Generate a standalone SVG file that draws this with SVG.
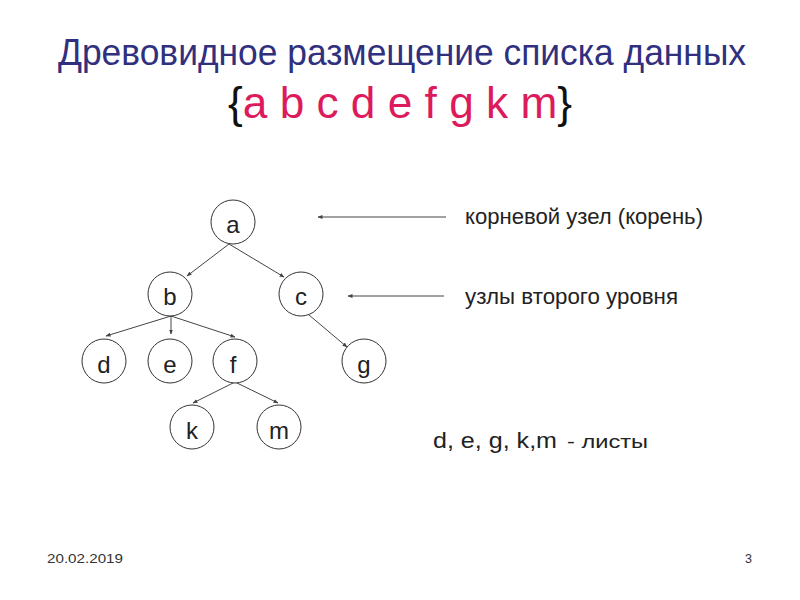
<svg xmlns="http://www.w3.org/2000/svg" width="800" height="600" viewBox="0 0 800 600">
<defs>
<marker id="ah" viewBox="0 0 10 10" refX="9" refY="5" markerWidth="5" markerHeight="5" orient="auto" markerUnits="userSpaceOnUse">
<path d="M0,1 L10,5 L0,9 z" fill="#444"/>
</marker>
<style>
.node circle{fill:#fff;stroke:#333;stroke-width:1}
.node text{font-family:"Liberation Sans",Arial,sans-serif;font-size:24px;fill:#222;text-anchor:middle}
.edge{stroke:#444;stroke-width:1;fill:none;marker-end:url(#ah)}
.lbl{font-family:"Liberation Sans",Arial,sans-serif;fill:#222}
</style>
</defs>
<rect width="800" height="600" fill="#fff"/>
<text x="58" y="65" font-family="'Liberation Sans',Arial,sans-serif" font-size="36" fill="#30307e" textLength="688" lengthAdjust="spacingAndGlyphs">Древовидное размещение списка данных</text>
<text x="228" y="118" font-family="'Liberation Sans',Arial,sans-serif" font-size="44" fill="#111" textLength="344" lengthAdjust="spacingAndGlyphs">{<tspan fill="#dc1a5c">a b c d e f g k m</tspan>}</text>

<g id="connectors">
<line class="edge" x1="229" y1="244" x2="187" y2="276"/>
<line class="edge" x1="229" y1="244" x2="284" y2="277"/>
<line class="edge" x1="171" y1="316" x2="106" y2="336"/>
<line class="edge" x1="171" y1="316" x2="171" y2="334"/>
<line class="edge" x1="171" y1="316" x2="235" y2="337"/>
<line class="edge" x1="309" y1="315" x2="347" y2="347"/>
<line class="edge" x1="235" y1="382" x2="193" y2="403"/>
<line class="edge" x1="235" y1="382" x2="278" y2="403"/>
<line class="edge" x1="446" y1="217" x2="318" y2="217"/>
<line class="edge" x1="444" y1="296" x2="348" y2="296"/>
</g>

<g id="node-a" class="node"><circle cx="233" cy="222" r="22"/><text x="233" y="233">a</text></g>
<g id="node-b" class="node"><circle cx="170" cy="294" r="22"/><text x="170" y="305">b</text></g>
<g id="node-c" class="node"><circle cx="301" cy="294" r="22"/><text x="301" y="305">c</text></g>
<g id="node-d" class="node"><circle cx="104" cy="361" r="22"/><text x="104" y="373">d</text></g>
<g id="node-e" class="node"><circle cx="170" cy="361" r="22"/><text x="170" y="373">e</text></g>
<g id="node-f" class="node"><circle cx="235" cy="361" r="22"/><text x="233" y="373">f</text></g>
<g id="node-g" class="node"><circle cx="364" cy="361" r="22"/><text x="364" y="373">g</text></g>
<g id="node-k" class="node"><circle cx="192" cy="427" r="22"/><text x="192" y="439">k</text></g>
<g id="node-m" class="node"><circle cx="279" cy="427" r="22"/><text x="279" y="439">m</text></g>

<text class="lbl" x="465" y="224" font-size="22" textLength="238" lengthAdjust="spacingAndGlyphs">корневой узел (корень)</text>
<text class="lbl" x="465" y="304" font-size="22" textLength="213" lengthAdjust="spacingAndGlyphs">узлы второго уровня</text>
<text class="lbl" x="433" y="448" font-size="22" textLength="124" lengthAdjust="spacingAndGlyphs">d, e, g, k,m</text>
<text class="lbl" x="567" y="448" font-size="19" textLength="81" lengthAdjust="spacingAndGlyphs">- листы</text>

<text x="47" y="563" font-family="'Liberation Sans',Arial,sans-serif" font-size="12" fill="#333" textLength="76" lengthAdjust="spacingAndGlyphs">20.02.2019</text>
<text x="745" y="563" font-family="'Liberation Sans',Arial,sans-serif" font-size="12" fill="#333" textLength="7" lengthAdjust="spacingAndGlyphs">3</text>
</svg>
